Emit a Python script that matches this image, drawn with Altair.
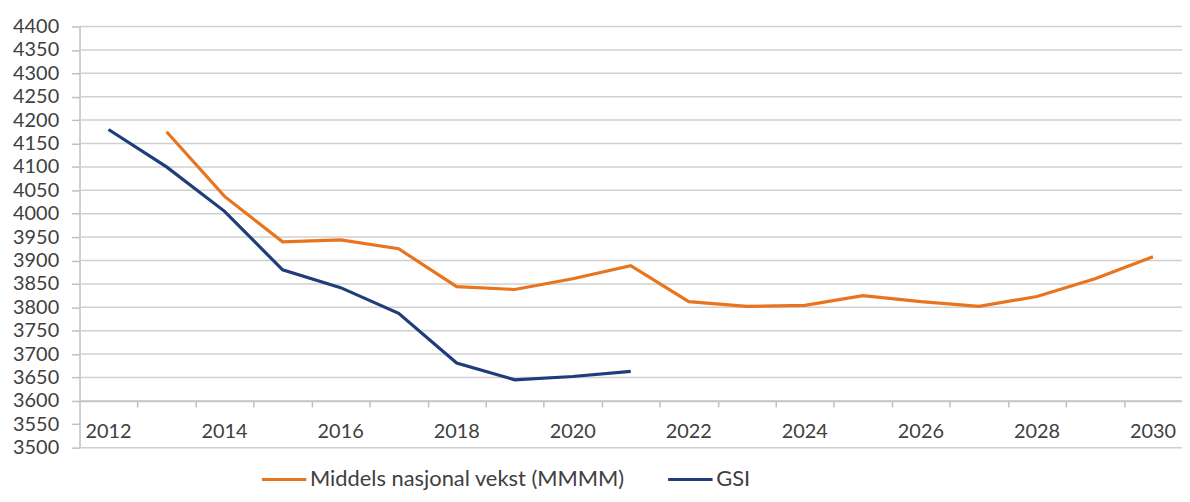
import altair as alt
import pandas as pd

# ---- data ----
gsi_years = list(range(2012, 2022))
gsi_values = [4180, 4100, 4005, 3880, 3842, 3787, 3681, 3645, 3652, 3663]
mid_years = list(range(2013, 2031))
mid_values = [4175, 4037, 3940, 3944, 3925, 3844, 3838, 3861, 3889,
              3812, 3802, 3804, 3825, 3812, 3802, 3823, 3861, 3908]
series_names = ["Middels nasjonal vekst (MMMM)", "GSI"]
series_colors = ["#E8751E", "#1F3D7A"]
y_ticks = list(range(3500, 4401, 50))
grid_values = [v for v in y_ticks if v != 3550]
x_label_years = list(range(2012, 2031, 2))
x_tick_bounds = [y + 0.5 for y in range(2012, 2030)]

FONT = "Lato"
FS = 20
TXT = "#404040"
AX = "#BFBFBF"

lines_df = pd.concat([
    pd.DataFrame({"year": mid_years, "value": mid_values, "series": series_names[0]}),
    pd.DataFrame({"year": gsi_years, "value": gsi_values, "series": series_names[1]}),
])
grid_df = pd.DataFrame({"v": grid_values})
labels_df = pd.DataFrame({"yr": x_label_years, "label": [str(y) for y in x_label_years]})

xscale = alt.Scale(domain=[2011.5, 2030.5], nice=False, zero=False)
yscale = alt.Scale(domain=[3500, 4400], nice=False, zero=False)

yaxis = alt.Axis(values=y_ticks, title=None, grid=False, domain=True, domainColor=AX,
                 domainWidth=1.5, ticks=True, tickSize=8, tickColor=AX, tickWidth=1.5,
                 labelFont=FONT, labelFontSize=FS, labelColor=TXT, labelPadding=13,
                 labelOverlap=False, format="d")
xaxis = alt.Axis(values=x_tick_bounds, title=None, grid=False, labels=False,
                 domainColor=AX, domainWidth=1.5, tickColor=AX, tickWidth=1.5,
                 tickSize=6, offset=-47)

grid = alt.Chart(grid_df).mark_rule(color="#D0D0D0", strokeWidth=1.5).encode(
    y=alt.Y("v:Q", scale=yscale, axis=yaxis)
)

lines = alt.Chart(lines_df).mark_line(strokeWidth=3.2).encode(
    x=alt.X("year:Q", scale=xscale, axis=xaxis),
    y=alt.Y("value:Q", scale=yscale, axis=yaxis),
    color=alt.Color("series:N",
                    scale=alt.Scale(domain=series_names, range=series_colors),
                    legend=alt.Legend(orient="none", legendX=182, legendY=432,
                                      direction="horizontal", title=None,
                                      symbolType="stroke", symbolSize=2000,
                                      symbolStrokeWidth=3, labelFont=FONT,
                                      labelFontSize=22, labelColor=TXT,
                                      columnPadding=36, labelOffset=2,
                                      labelLimit=0)),
)

xlabels = alt.Chart(labels_df).mark_text(font=FONT, fontSize=FS, color=TXT,
                                         baseline="middle", dy=8).encode(
    x=alt.X("yr:Q", scale=xscale, axis=xaxis),
    y=alt.datum(3550, type="quantitative", scale=yscale, axis=yaxis),
    text="label:N",
)

chart = alt.layer(grid, lines, xlabels).properties(
    width=1110, height=424,
    autosize=alt.AutoSizeParams(type="none"),
    padding={"left": 72, "top": 17, "right": 0, "bottom": 45},
    background="white",
).configure_view(stroke=None)

chart.save("out.html", embed_options={"renderer": "svg", "actions": False})
